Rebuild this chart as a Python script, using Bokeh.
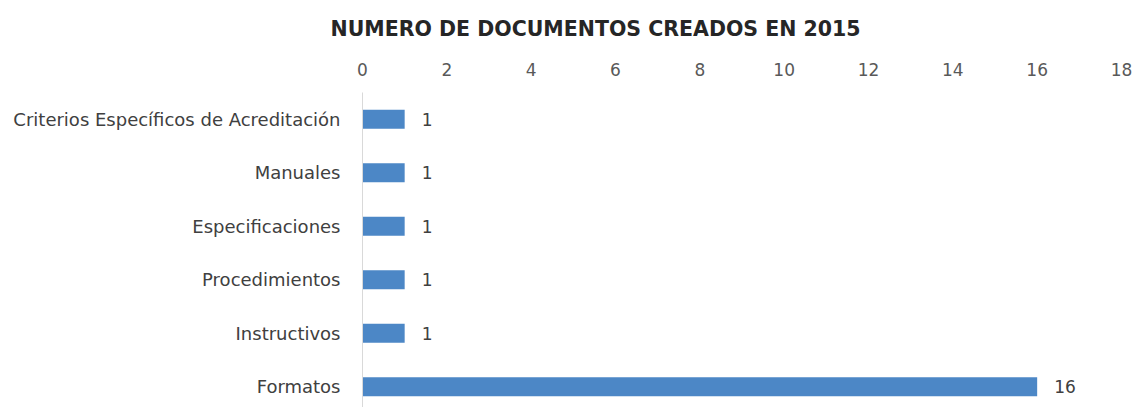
from bokeh.plotting import figure
from bokeh.models import Range1d, FixedTicker, ColumnDataSource, Title
from bokeh.embed import file_html
from bokeh.resources import INLINE
from bokeh.core.properties import value

# --- data (top to bottom as shown) ---
categories = [
    "Criterios Específicos de Acreditación",
    "Manuales",
    "Especificaciones",
    "Procedimientos",
    "Instructivos",
    "Formatos",
]
counts = [1, 1, 1, 1, 1, 16]
x_ticks = [0, 2, 4, 6, 8, 10, 12, 14, 16, 18]
title_text = "NUMERO DE DOCUMENTOS CREADOS EN 2015"

FONT = "DejaVu Sans"
n = len(categories)
ypos = [n - 1 - i for i in range(n)]
src = ColumnDataSource(dict(y=ypos, v=counts, lab=[str(c) for c in counts]))

p = figure(width=1135, height=407,
           x_range=Range1d(0, 18), y_range=Range1d(-0.388, 5.5),
           x_axis_location="above",
           output_backend="svg", toolbar_location=None,
           min_border_left=362, min_border_right=14,
           min_border_top=92, min_border_bottom=0)

p.title = Title(text=title_text, align="left", offset=-32,
                vertical_align="top",
                text_font=FONT, text_font_size="20.5px", text_font_style="bold",
                text_color="#262626", standoff=33)

p.hbar(y="y", left=0, right="v", height=0.355, source=src,
       fill_color="#4C87C6", line_color=None)
p.text(x="v", y="y", text="lab", source=src, x_offset=17,
       text_align="left", text_baseline="middle",
       text_font=value(FONT), text_font_size="17px", text_color="#404040")

p.outline_line_color = None
p.xgrid.visible = False
p.ygrid.visible = False
p.background_fill_color = "white"
p.border_fill_color = "white"

xa = p.xaxis[0]
xa.ticker = FixedTicker(ticks=x_ticks)
xa.axis_line_color = None
xa.major_tick_line_color = None
xa.minor_tick_line_color = None
xa.major_label_standoff = 11
xa.major_label_text_font = FONT
xa.major_label_text_font_size = "17px"
xa.major_label_text_color = "#595959"

ya = p.yaxis[0]
ya.ticker = FixedTicker(ticks=ypos)
ya.major_label_overrides = {y: c for y, c in zip(ypos, categories)}
ya.axis_line_color = "#D9D9D9"
ya.axis_line_width = 1
ya.major_tick_line_color = None
ya.minor_tick_line_color = None
ya.major_label_standoff = 16
ya.major_label_text_font = FONT
ya.major_label_text_font_size = "18px"
ya.major_label_text_color = "#404040"

open("out.html", "w").write(file_html(p, INLINE))
